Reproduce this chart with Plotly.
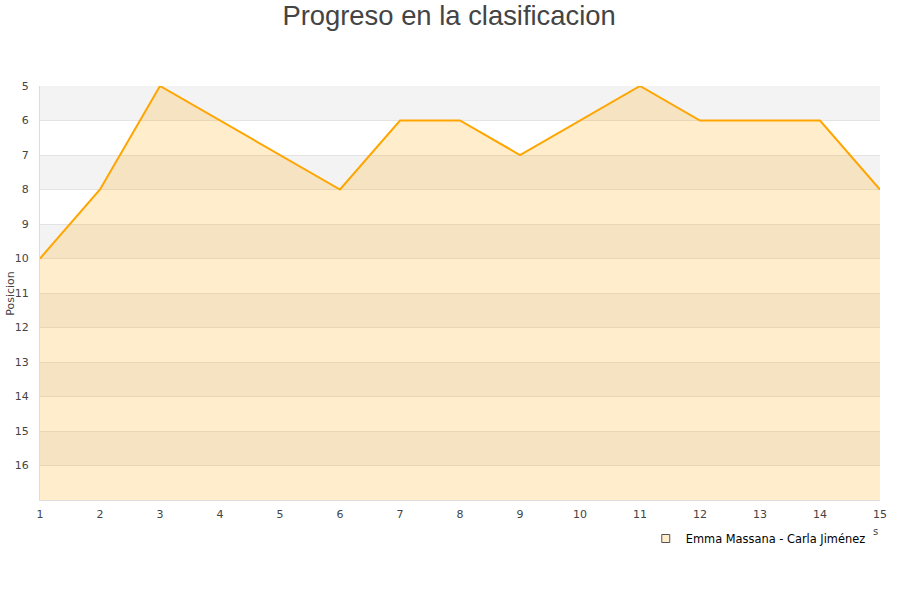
import plotly.graph_objects as go

jornadas = list(range(1, 16))
posiciones = [10, 8, 5, 6, 7, 8, 6, 6, 7, 6, 5, 6, 6, 6, 8]
serie = "Emma Massana - Carla Jiménez"
y_tick_vals = list(range(5, 17))
y_min, y_max = 5, 17

fig = go.Figure()
fig.add_trace(go.Scatter(x=jornadas, y=[y_max] * len(jornadas), mode="lines",
                         line=dict(width=0), showlegend=False, hoverinfo="skip"))
fig.add_trace(go.Scatter(x=jornadas, y=posiciones, mode="lines", name=serie, showlegend=False,
                         line=dict(color="#FFA500", width=2),
                         fill="tonexty", fillcolor="rgba(255,165,0,0.2)"))
# legend entry (square swatch)
fig.add_trace(go.Scatter(x=[None], y=[None], mode="markers", name=serie,
                         marker=dict(symbol="square", size=8, color="#FFEDCC",
                                     line=dict(color="#555555", width=1))))

shapes = []
for b in range(y_min, y_max, 2):
    shapes.append(dict(type="rect", xref="paper", yref="y", x0=0, x1=1, y0=b, y1=b + 1,
                       fillcolor="#F3F3F3", line=dict(width=0), layer="below"))

fig.update_layout(
    width=900, height=600,
    paper_bgcolor="white", plot_bgcolor="white",
    margin=dict(l=40, r=20, t=86, b=100, autoexpand=False),
    title=dict(text="Progreso en la clasificacion", x=0.499, xanchor="center", y=0.975, yanchor="middle",
               font=dict(family="Liberation Sans, Arial", size=27.4, color="#444444")),
    font=dict(family="DejaVu Sans", size=11, color="#444444"),
    shapes=shapes,
    xaxis=dict(range=[1, 15], tickvals=jornadas, showgrid=False, zeroline=False, automargin=False,
               showline=True, linecolor="#DDDDDD", linewidth=1, ticks="",
               tickfont=dict(size=11, color="#444444"), ticklabelstandoff=4),
    yaxis=dict(range=[y_max, y_min], tickvals=y_tick_vals, showgrid=True, gridcolor="#E3E3E3",
               zeroline=False, showline=True, linecolor="#DDDDDD", linewidth=1, ticks="",
               automargin=False, tickfont=dict(size=11, color="#444444"), ticklabelstandoff=8),
    showlegend=True,
    legend=dict(x=0.989, xanchor="right", y=-0.058, yanchor="top", bgcolor="rgba(0,0,0,0)",
                font=dict(size=11.4, color="#000000"), itemwidth=30),
    annotations=[
        dict(text="Posicion", xref="paper", yref="paper", x=-0.036, y=0.5, xanchor="center",
             yanchor="middle", textangle=-90, showarrow=False, font=dict(size=11, color="#444444")),
        dict(text="s", xref="paper", yref="paper", x=0.995, y=-0.075, xanchor="center",
             yanchor="middle", showarrow=False, font=dict(size=10, color="#444444")),
    ],
)

fig.write_html("out.html", post_script="document.body.style.margin='0';",
               config={"displayModeBar": False})
